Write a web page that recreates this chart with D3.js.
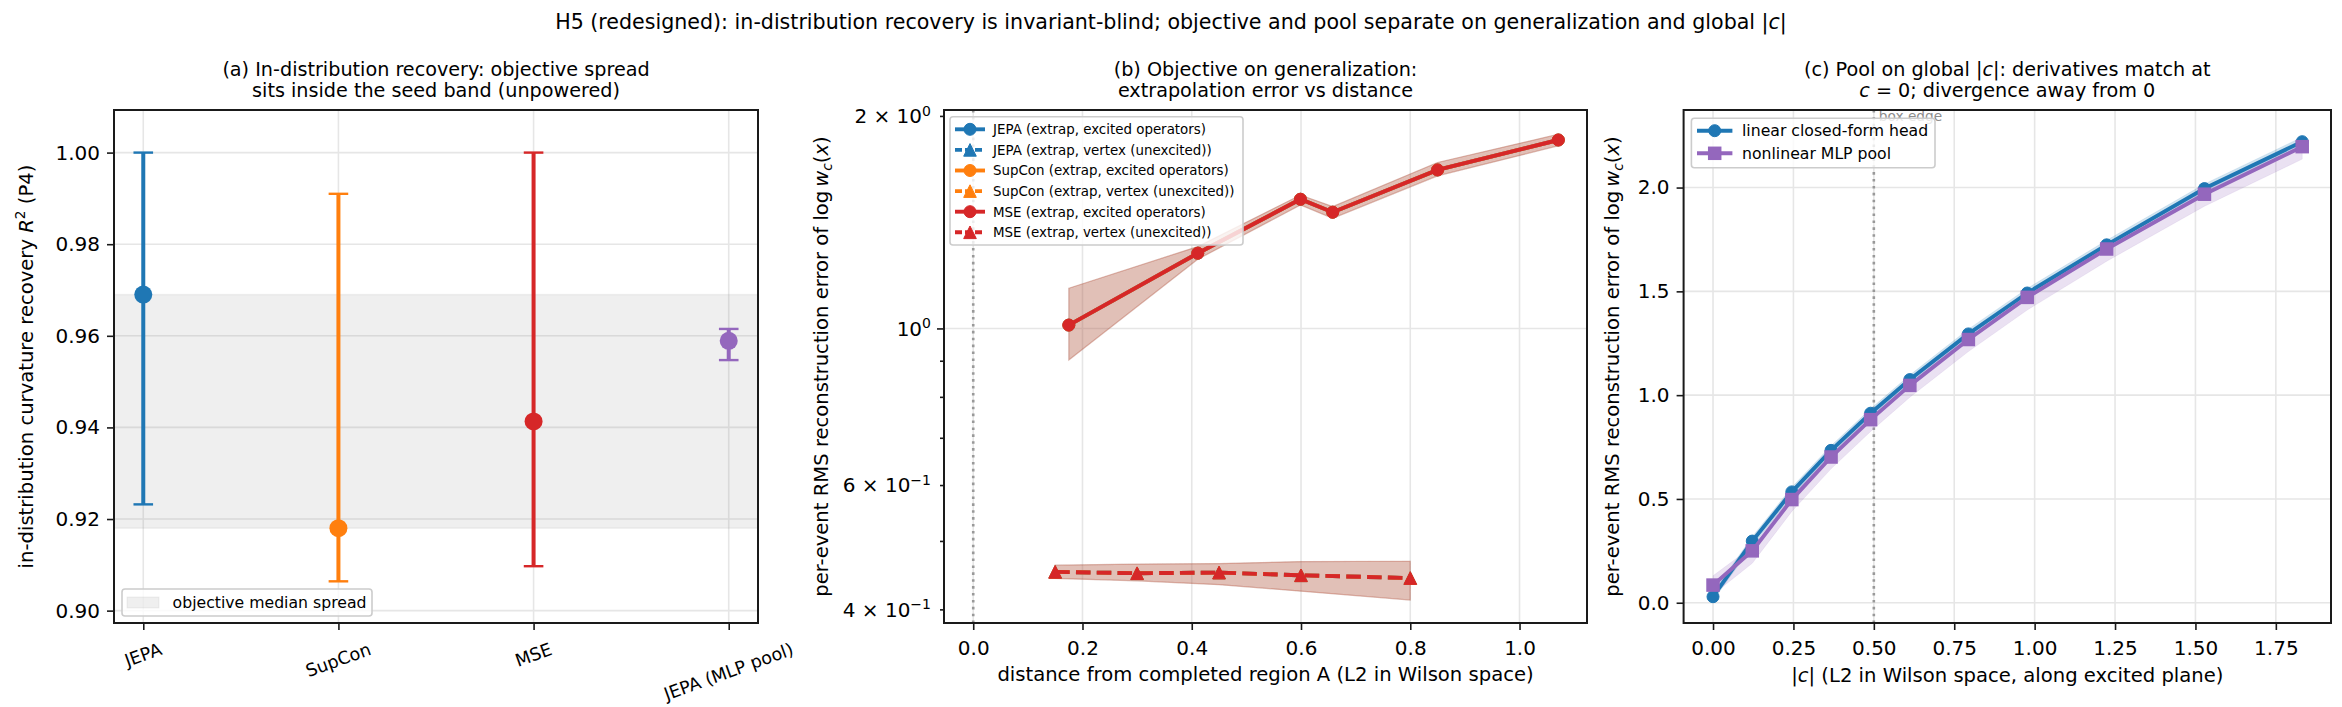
<!DOCTYPE html>
<html>
<head>
<meta charset="utf-8">
<script src="https://cdn.jsdelivr.net/npm/d3@7"></script>
<style>
  body { margin: 0; background: #fff; }
  svg text { font-family: "DejaVu Sans", sans-serif; fill: #000; }
</style>
</head>
<body>
<svg id="chart"></svg>
<script>
const width = 2342;
const height = 707;

// (a) in-distribution recovery, median and seed range per model
const categories = ["JEPA", "SupCon", "MSE", "JEPA (MLP pool)"];
const r2Median = [0.969, 0.918, 0.9413, 0.9589];
const r2Low = [0.9232, 0.9064, 0.9097, 0.9547];
const r2High = [1.000, 0.991, 1.000, 0.9615];
const r2Ticks = [0.90, 0.92, 0.94, 0.96, 0.98, 1.00];

// (b) extrapolation error vs distance; the three objectives give the same curves
const objectives = ["JEPA", "SupCon", "MSE"];
const excitedDist = [0.175, 0.411, 0.599, 0.658, 0.850, 1.071];
const excitedErr = [1.011, 1.278, 1.524, 1.461, 1.677, 1.849];
const excitedLo = [0.902, 1.253, 1.496, 1.432, 1.645, 1.814];
const excitedHi = [1.140, 1.306, 1.545, 1.488, 1.718, 1.884];
const vertexDist = [0.15, 0.30, 0.45, 0.60, 0.80];
const vertexErr = [0.452, 0.450, 0.451, 0.447, 0.443];
const vertexLo = [0.4425, 0.439, 0.4335, 0.4245, 0.4123];
const vertexHi = [0.462, 0.4636, 0.4644, 0.4675, 0.468];
const distTicks = [0.0, 0.2, 0.4, 0.6, 0.8, 1.0];
const errMinorTicks = [0.4, 0.5, 0.6, 0.7, 0.8, 0.9, 2];
const errLabelTicks = [[2, "2", "0"], [1, "", "0"], [0.6, "6", "\u22121"], [0.4, "4", "\u22121"]];

// (c) error vs |c| for the two pools
const cNorm = [0, 0.122, 0.245, 0.367, 0.49, 0.612, 0.794, 0.977, 1.224, 1.528, 1.832];
const linearErr = [0.029, 0.297, 0.534, 0.734, 0.913, 1.075, 1.295, 1.492, 1.724, 1.995, 2.221];
const linearLo = [0.010, 0.275, 0.512, 0.712, 0.892, 1.054, 1.273, 1.470, 1.702, 1.973, 2.200];
const linearHi = [0.050, 0.318, 0.556, 0.756, 0.934, 1.097, 1.318, 1.514, 1.746, 2.017, 2.243];
const mlpErr = [0.085, 0.250, 0.497, 0.702, 0.882, 1.047, 1.268, 1.471, 1.704, 1.968, 2.197];
const mlpLo = [0.040, 0.190, 0.440, 0.645, 0.825, 0.990, 1.210, 1.410, 1.645, 1.910, 2.137];
const mlpHi = [0.130, 0.270, 0.515, 0.720, 0.900, 1.065, 1.290, 1.490, 1.725, 1.990, 2.220];
const cTicksX = [0, 0.25, 0.5, 0.75, 1.0, 1.25, 1.5, 1.75];
const cTicksY = [0, 0.5, 1.0, 1.5, 2.0];
const boxEdge = 0.5;

const catColors = ["#1f77b4", "#ff7f0e", "#d62728", "#9467bd"];
const objColors = { JEPA: "#1f77b4", SupCon: "#ff7f0e", MSE: "#d62728" };
const gridColor = "#e6e6e6";
const tickFs = 20;

const plotTop = 110, plotBottom = 623;

const svg = d3.select("#chart")
    .attr("width", width)
    .attr("height", height);

const xA = d3.scaleLinear().domain([-0.15, 3.15]).range([114, 758]);
const yA = d3.scaleLinear().domain([0.8973, 1.0093]).range([plotBottom, plotTop]);
const xB = d3.scaleLinear().domain([-0.0535, 1.1235]).range([944, 1587]);
const yB = d3.scaleLog().domain([0.3826, 2.039]).range([plotBottom, plotTop]);
const xC = d3.scaleLinear().domain([-0.0915, 1.9215]).range([1683.6, 2331]);
const yC = d3.scaleLinear().domain([-0.0976, 2.3736]).range([plotBottom, plotTop]);

// text with italic / super / subscript pieces
function rich(text, parts, fs) {
    let shift = 0;
    parts.forEach(p => {
        const target = p.sup ? -0.36 * fs : p.sub ? 0.22 * fs : 0;
        const ts = text.append("tspan").text(p.t);
        if (p.it) ts.style("font-style", "italic");
        if (p.sup || p.sub) ts.attr("font-size", fs * 0.7);
        if (target !== shift) ts.attr("dy", target - shift);
        shift = target;
    });
    return text;
}

function gridLines(g, xs, ys, xScale, yScale) {
    const [x0, x1] = xScale.range();
    g.append("g").selectAll("line").data(xs).join("line")
        .attr("x1", d => xScale(d)).attr("x2", d => xScale(d))
        .attr("y1", plotTop).attr("y2", plotBottom)
        .attr("stroke", gridColor).attr("stroke-width", 1.6);
    g.append("g").selectAll("line").data(ys).join("line")
        .attr("x1", x0).attr("x2", x1)
        .attr("y1", d => yScale(d)).attr("y2", d => yScale(d))
        .attr("stroke", gridColor).attr("stroke-width", 1.6);
}

function frame(xScale) {
    const [x0, x1] = xScale.range();
    svg.append("rect")
        .attr("x", x0).attr("y", plotTop)
        .attr("width", x1 - x0).attr("height", plotBottom - plotTop)
        .attr("fill", "none").attr("stroke", "#1a1a1a").attr("stroke-width", 2);
}

function styleAxis(g) {
    g.attr("font-family", "DejaVu Sans").attr("font-size", tickFs);
    g.select(".domain").remove();
    g.selectAll(".tick line").attr("stroke", "#1a1a1a").attr("stroke-width", 1.6);
    g.selectAll(".tick text").attr("fill", "#000");
}

function legendBox(x, y, w, h) {
    svg.append("rect")
        .attr("x", x).attr("y", y).attr("width", w).attr("height", h)
        .attr("rx", 3)
        .attr("fill", "#fff").attr("fill-opacity", 0.8)
        .attr("stroke", "#cccccc").attr("stroke-width", 1.6);
}

function marker(g, shape, x, y, color) {
    if (shape === "circle") {
        g.append("circle").attr("cx", x).attr("cy", y).attr("r", 6)
            .attr("fill", color).attr("stroke", color).attr("stroke-width", 1);
    } else if (shape === "triangle") {
        const s = 6.3;
        g.append("path")
            .attr("d", `M${x},${y - s}L${x - s},${y + s}L${x + s},${y + s}Z`)
            .attr("fill", color).attr("stroke", color).attr("stroke-width", 1);
    } else {
        g.append("rect").attr("x", x - 6).attr("y", y - 6).attr("width", 12).attr("height", 12)
            .attr("fill", color).attr("stroke", color).attr("stroke-width", 1.5);
    }
}

// ---------- suptitle ----------
rich(svg.append("text")
    .attr("x", 1171).attr("y", 29)
    .attr("text-anchor", "middle").attr("font-size", 20.6),
    [{ t: "H5 (redesigned): in-distribution recovery is invariant-blind; objective and pool separate on generalization and global |" },
     { t: "c", it: true }, { t: "|" }], 20.6);

function panelTitle(cx, line1, line2) {
    const fs = 19.2;
    rich(svg.append("text").attr("x", cx).attr("y", 75.5)
        .attr("text-anchor", "middle").attr("font-size", fs), line1, fs);
    rich(svg.append("text").attr("x", cx).attr("y", 97)
        .attr("text-anchor", "middle").attr("font-size", fs), line2, fs);
}

// ---------- panel (a) ----------
const gA = svg.append("g");
gridLines(gA, d3.range(categories.length), r2Ticks, xA, yA);

const [spreadLo, spreadHi] = d3.extent(r2Median.slice(0, objectives.length));
gA.append("rect")
    .attr("x", xA.range()[0]).attr("width", xA.range()[1] - xA.range()[0])
    .attr("y", yA(spreadHi)).attr("height", yA(spreadLo) - yA(spreadHi))
    .attr("fill", "#808080").attr("fill-opacity", 0.13)
    .attr("stroke", "#808080").attr("stroke-opacity", 0.1).attr("stroke-width", 1.5);

categories.forEach((c, i) => {
    const x = xA(i);
    const col = catColors[i];
    gA.append("line")
        .attr("x1", x).attr("x2", x)
        .attr("y1", yA(r2Low[i])).attr("y2", yA(r2High[i]))
        .attr("stroke", col).attr("stroke-width", 4);
    [r2Low[i], r2High[i]].forEach(v => {
        gA.append("line")
            .attr("x1", x - 9.8).attr("x2", x + 9.8)
            .attr("y1", yA(v)).attr("y2", yA(v))
            .attr("stroke", col).attr("stroke-width", 2.4);
    });
    gA.append("circle")
        .attr("cx", x).attr("cy", yA(r2Median[i])).attr("r", 9)
        .attr("fill", col);
});

const axA = svg.append("g")
    .attr("transform", `translate(${xA.range()[0]},0)`)
    .call(d3.axisLeft(yA).tickValues(r2Ticks).tickFormat(d3.format(".2f")).tickSize(7).tickPadding(7));
styleAxis(axA);

const axAx = svg.append("g")
    .attr("transform", `translate(0,${plotBottom})`)
    .call(d3.axisBottom(xA).tickValues(d3.range(categories.length)).tickFormat("").tickSize(7));
styleAxis(axAx);

categories.forEach((c, i) => {
    const fs = 17.6;
    const g = svg.append("g");
    const t = g.append("text")
        .attr("text-anchor", "middle").attr("dy", "0.33em")
        .attr("font-size", fs).text(c);
    const w = t.node().getComputedTextLength();
    const a = 20 * Math.PI / 180;
    const bh = w * Math.sin(a) + fs * 1.17 * Math.cos(a);
    g.attr("transform", `translate(${xA(i)},${plotBottom + 16 + bh / 2}) rotate(-20)`);
});

rich(svg.append("text")
    .attr("transform", `translate(32.5,${(plotTop + plotBottom) / 2}) rotate(-90)`)
    .attr("text-anchor", "middle").attr("font-size", 19.6),
    [{ t: "in-distribution curvature recovery " }, { t: "R", it: true }, { t: "2", sup: true }, { t: " (P4)" }], 19.6);

panelTitle((xA.range()[0] + xA.range()[1]) / 2,
    [{ t: "(a) In-distribution recovery: objective spread" }],
    [{ t: "sits inside the seed band (unpowered)" }]);

frame(xA);

legendBox(122, 589, 250, 27);
svg.append("rect").attr("x", 127).attr("y", 597).attr("width", 32).attr("height", 11)
    .attr("fill", "#808080").attr("fill-opacity", 0.13)
    .attr("stroke", "#808080").attr("stroke-opacity", 0.1);
svg.append("text").attr("x", 172.6).attr("y", 602.5).attr("dy", "0.35em")
    .attr("font-size", 15.7).text("objective median spread");

// ---------- panel (b) ----------
const gB = svg.append("g");
gridLines(gB, distTicks, [1], xB, yB);

gB.append("line")
    .attr("x1", xB(0)).attr("x2", xB(0)).attr("y1", plotTop).attr("y2", plotBottom)
    .attr("stroke", "#999").attr("stroke-width", 2.6).attr("stroke-dasharray", "2.6,4.3");

const excited = excitedDist.map((d, i) => ({ x: d, y: excitedErr[i], lo: excitedLo[i], hi: excitedHi[i] }));
const vertex = vertexDist.map((d, i) => ({ x: d, y: vertexErr[i], lo: vertexLo[i], hi: vertexHi[i] }));

const bandB = d3.area().x(d => xB(d.x)).y0(d => yB(d.lo)).y1(d => yB(d.hi));
const lineB = d3.line().x(d => xB(d.x)).y(d => yB(d.y));

objectives.forEach(o => {
    [excited, vertex].forEach(data => {
        gB.append("path").attr("d", bandB(data))
            .attr("fill", objColors[o]).attr("fill-opacity", 0.15)
            .attr("stroke", objColors[o]).attr("stroke-opacity", 0.15).attr("stroke-width", 1.2);
    });
});
objectives.forEach(o => {
    const col = objColors[o];
    gB.append("path").attr("d", lineB(excited))
        .attr("fill", "none").attr("stroke", col).attr("stroke-width", 3.9);
    excited.forEach(d => marker(gB, "circle", xB(d.x), yB(d.y), col));
    gB.append("path").attr("d", lineB(vertex))
        .attr("fill", "none").attr("stroke", col).attr("stroke-width", 3.9)
        .attr("stroke-dasharray", "14.5,6.3");
    vertex.forEach(d => marker(gB, "triangle", xB(d.x), yB(d.y), col));
});

const axBx = svg.append("g")
    .attr("transform", `translate(0,${plotBottom})`)
    .call(d3.axisBottom(xB).tickValues(distTicks).tickFormat(d3.format(".1f")).tickSize(7).tickPadding(10.5));
styleAxis(axBx);

const axBy = svg.append("g")
    .attr("transform", `translate(${xB.range()[0]},0)`)
    .call(d3.axisLeft(yB).tickValues([...errMinorTicks, 1]).tickFormat("").tickSize(4));
styleAxis(axBy);
axBy.selectAll(".tick line").attr("x2", d => d === 1 ? -7 : -4);

errLabelTicks.forEach(([v, m, e]) => {
    const t = svg.append("text")
        .attr("x", xB.range()[0] - 13).attr("y", yB(v)).attr("dy", "0.36em")
        .attr("text-anchor", "end").attr("font-size", tickFs);
    const parts = m ? [{ t: m + " \u00d7 10" }] : [{ t: "10" }];
    parts.push({ t: e, sup: true });
    rich(t, parts, tickFs);
});

svg.append("text")
    .attr("x", (xB.range()[0] + xB.range()[1]) / 2).attr("y", 681)
    .attr("text-anchor", "middle").attr("font-size", 19.6)
    .text("distance from completed region A (L2 in Wilson space)");

const yLabelParts = [{ t: "per-event RMS reconstruction error of log\u2009" }, { t: "w", it: true },
    { t: "c", it: true, sub: true }, { t: "(" }, { t: "x", it: true }, { t: ")" }];
rich(svg.append("text")
    .attr("transform", `translate(827.5,${(plotTop + plotBottom) / 2}) rotate(-90)`)
    .attr("text-anchor", "middle").attr("font-size", 19.6), yLabelParts, 19.6);

panelTitle((xB.range()[0] + xB.range()[1]) / 2,
    [{ t: "(b) Objective on generalization:" }],
    [{ t: "extrapolation error vs distance" }]);

frame(xB);

legendBox(950, 116.7, 293, 128.3);
const legB = svg.append("g");
let row = 0;
objectives.forEach(o => {
    [["excited operators)", "circle", null], ["vertex (unexcited))", "triangle", "7,3"]].forEach(([lab, shape, dash]) => {
        const y = 129.3 + row * 20.6;
        legB.append("line").attr("x1", 955).attr("x2", 985).attr("y1", y).attr("y2", y)
            .attr("stroke", objColors[o]).attr("stroke-width", 3.9)
            .attr("stroke-dasharray", dash);
        marker(legB, shape, 970, y, objColors[o]);
        legB.append("text").attr("x", 993).attr("y", y).attr("dy", "0.36em")
            .attr("font-size", 13.4).text(`${o} (extrap, ${lab}`);
        row++;
    });
});

// ---------- panel (c) ----------
const gC = svg.append("g");
gridLines(gC, cTicksX, cTicksY, xC, yC);

const linear = cNorm.map((d, i) => ({ x: d, y: linearErr[i], lo: linearLo[i], hi: linearHi[i] }));
const mlp = cNorm.map((d, i) => ({ x: d, y: mlpErr[i], lo: mlpLo[i], hi: mlpHi[i] }));
const bandC = d3.area().x(d => xC(d.x)).y0(d => yC(d.lo)).y1(d => yC(d.hi));
const lineC = d3.line().x(d => xC(d.x)).y(d => yC(d.y));

gC.append("line")
    .attr("x1", xC(boxEdge)).attr("x2", xC(boxEdge)).attr("y1", plotTop).attr("y2", plotBottom)
    .attr("stroke", "#999").attr("stroke-width", 2.6).attr("stroke-dasharray", "2.6,4.3");
gC.append("text")
    .attr("x", xC(boxEdge) + 5).attr("y", plotTop + 10.5)
    .attr("font-size", 13.7).style("fill", "#8c8c8c")
    .text("box edge");

[[linear, catColors[0]], [mlp, catColors[3]]].forEach(([data, col]) => {
    gC.append("path").attr("d", bandC(data))
        .attr("fill", col).attr("fill-opacity", 0.2)
        .attr("stroke", col).attr("stroke-opacity", 0.1);
});
[[linear, catColors[0], "circle"], [mlp, catColors[3], "square"]].forEach(([data, col, shape]) => {
    gC.append("path").attr("d", lineC(data))
        .attr("fill", "none").attr("stroke", col).attr("stroke-width", 3.9);
    data.forEach(d => marker(gC, shape, xC(d.x), yC(d.y), col));
});

const axCx = svg.append("g")
    .attr("transform", `translate(0,${plotBottom})`)
    .call(d3.axisBottom(xC).tickValues(cTicksX).tickFormat(d3.format(".2f")).tickSize(7).tickPadding(10.5));
styleAxis(axCx);

const axCy = svg.append("g")
    .attr("transform", `translate(${xC.range()[0]},0)`)
    .call(d3.axisLeft(yC).tickValues(cTicksY).tickFormat(d3.format(".1f")).tickSize(7).tickPadding(7));
styleAxis(axCy);

rich(svg.append("text")
    .attr("x", (xC.range()[0] + xC.range()[1]) / 2).attr("y", 682)
    .attr("text-anchor", "middle").attr("font-size", 19.6),
    [{ t: "|" }, { t: "c", it: true }, { t: "| (L2 in Wilson space, along excited plane)" }], 19.6);

rich(svg.append("text")
    .attr("transform", `translate(1619,${(plotTop + plotBottom) / 2}) rotate(-90)`)
    .attr("text-anchor", "middle").attr("font-size", 19.6), yLabelParts, 19.6);

panelTitle((xC.range()[0] + xC.range()[1]) / 2,
    [{ t: "(c) Pool on global |" }, { t: "c", it: true }, { t: "|: derivatives match at" }],
    [{ t: "c", it: true }, { t: " = 0; divergence away from 0" }]);

frame(xC);

legendBox(1691.4, 118.3, 243.6, 49.4);
const legC = svg.append("g");
[["linear closed-form head", catColors[0], "circle"], ["nonlinear MLP pool", catColors[3], "square"]]
    .forEach(([lab, col, shape], i) => {
        const y = 130.7 + i * 22.6;
        legC.append("line").attr("x1", 1697).attr("x2", 1732.4).attr("y1", y).attr("y2", y)
            .attr("stroke", col).attr("stroke-width", 3.9);
        marker(legC, shape, 1714.7, y, col);
        legC.append("text").attr("x", 1742).attr("y", y).attr("dy", "0.36em")
            .attr("font-size", 15.7).text(lab);
    });
</script>
</body>
</html>
